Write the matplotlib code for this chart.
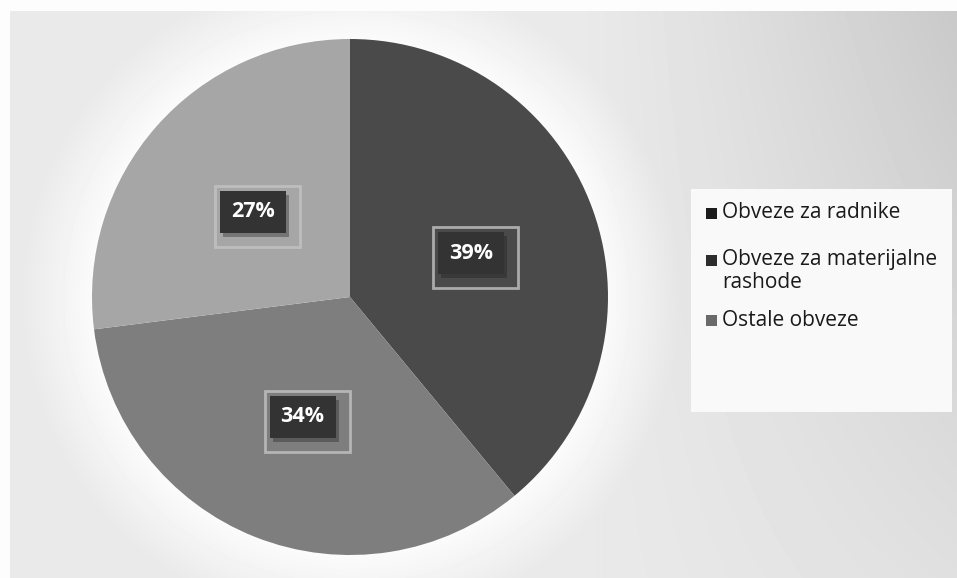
import numpy as np
import matplotlib
matplotlib.use("Agg")
import matplotlib.pyplot as plt
from matplotlib.patches import Rectangle

categories = ["Obveze za radnike", "Obveze za materijalne\nrashode", "Ostale obveze"]
values = [39, 34, 27]
pct_labels = ["39%", "34%", "27%"]
slice_colors = ["#4a4a4a", "#7e7e7e", "#a6a6a6"]
legend_colors = ["#1c1c1c", "#2c2c2c", "#6a6a6a"]

W, H = 957, 578
fig = plt.figure(figsize=(W / 100, H / 100), dpi=100)

# background (scan-like gradient)
yy, xx = np.mgrid[0:H, 0:W]
bg = np.full((H, W), 0.915)
r = np.hypot(xx - 350, yy - 297)
glow = np.clip((330 - r) / 90, 0, 1)
bg = bg + (1 - bg) * glow
right = np.clip((xx - 580) / 380, 0, 1)
topfac = np.clip(1 - yy / 578, 0, 1)
bg = np.maximum(bg, 0.97 * np.clip((xx - 480) / 120, 0, 1) * (1 - right))
bg = bg - 0.13 * right ** 1.2 * (0.3 + 0.7 * topfac)
box = (xx > 690) & (xx < 952) & (yy > 188) & (yy < 412)
bg[box] = np.maximum(bg[box], 0.975)
bg[:11, :] = 0.99
bg[:, :10] = 0.99
bg = np.clip(bg, 0, 1)
bgax = fig.add_axes([0, 0, 1, 1])
bgax.imshow(bg, cmap="gray", vmin=0, vmax=1, aspect="auto", interpolation="bilinear")
bgax.axis("off")

cx, cy, R = 350, 297, 258
ax = fig.add_axes([(cx - R) / W, (H - cy - R) / H, 2 * R / W, 2 * R / H])
wedges, texts, autotexts = ax.pie(values, colors=slice_colors, startangle=90,
                                  counterclock=False, autopct="%1.0f%%",
                                  pctdistance=0.5, radius=1,
                                  wedgeprops=dict(linewidth=0))
ax.set_xlim(-1, 1)
ax.set_ylim(-1, 1)
ax.set_aspect("equal")
ax.axis("off")

px = 1.0 / R  # one pixel in data units
bw, bh = 66 * px, 42 * px
for at, lab in zip(autotexts, pct_labels):
    x, y = at.get_position()
    at.set_visible(False)
    # light frame
    ax.add_patch(Rectangle((x - bw / 2 - 5 * px, y - bh / 2 - 14 * px), bw + 19 * px, bh + 19 * px,
                           fc="none", ec="#c4c4c4", lw=2.0, alpha=0.8))
    # shadow
    ax.add_patch(Rectangle((x - bw / 2 + 3 * px, y - bh / 2 - 4 * px), bw, bh,
                           fc="#1a1a1a", ec="none", alpha=0.35))
    ax.add_patch(Rectangle((x - bw / 2, y - bh / 2), bw, bh, fc="#333333", ec="none"))
    ax.text(x, y, lab, ha="center", va="center", fontsize=15.5,
            fontweight="bold", family="Open Sans", color="white")

# legend
item_y = [213, 260, 320]
for lab, col, iy in zip(categories, legend_colors, item_y):
    fig.patches.append(Rectangle((706 / W, (H - iy - 6) / H), 11 / W, 11 / H,
                                 transform=fig.transFigure, fc=col, ec="none",
                                 hatch="xx" if col == legend_colors[2] else None))
    for k, line in enumerate(lab.split("\n")):
        fig.text(722 / W, (H - iy - 22 * k) / H, line, ha="left", va="center",
                 fontsize=15, family="Open Sans", color="#1a1a1a")

fig.savefig("out.png", dpi=100)
